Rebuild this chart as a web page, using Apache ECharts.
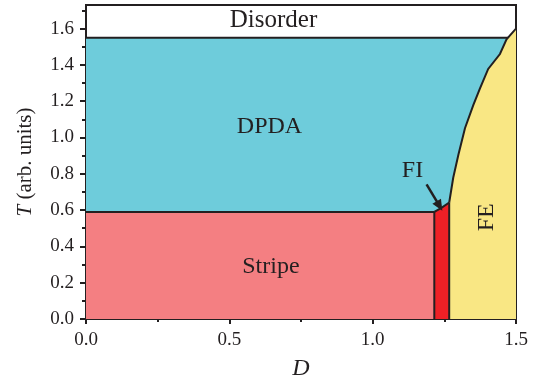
<!DOCTYPE html>
<html>
<head>
<meta charset="utf-8">
<script src="https://cdn.jsdelivr.net/npm/echarts@6/dist/echarts.min.js"></script>
<style>html,body{margin:0;padding:0;background:#fff}#c{width:539px;height:386px}</style>
</head>
<body>
<div id="c"></div>
<script>
// ---- data (D, T in axis units) ----
const xTicks = [0, 0.5, 1.0, 1.5];
const yTicks = [0, 0.2, 0.4, 0.6, 0.8, 1.0, 1.2, 1.4, 1.6];
const yMinorTicks = [0.1, 0.3, 0.5, 0.7, 0.9, 1.1, 1.3, 1.5, 1.7];
const D_MAX = 1.5;
const T_MAX = 1.73;
const disorderT = 1.55;
const stripeTopT = 0.59;
const stripeRightD = 1.215;
const fiRightD = 1.267;
const fiTopD = [1.215, 1.24, 1.267];
const fiTopT = [0.59, 0.612, 0.642];
const feBoundaryD = [1.267, 1.281, 1.299, 1.322, 1.351, 1.374, 1.403, 1.444, 1.467, 1.5];
const feBoundaryT = [0.642, 0.778, 0.905, 1.051, 1.178, 1.269, 1.378, 1.46, 1.541, 1.6];
const arrowFrom = [1.188, 0.742];
const arrowTo = [1.243, 0.597];
const regionNames = ['Disorder', 'DPDA', 'Stripe', 'FI', 'FE'];
const regionLabelD = [0.654, 0.64, 0.645, 1.139, 1.399];
const regionLabelT = [1.645, 1.062, 0.29, 0.818, 0.56];

const INK = '#231F20';
const FONT = '"Liberation Serif", "Times New Roman", serif';
const COL = {dpda: '#6ECCDB', stripe: '#F47F82', fi: '#EE2026', fe: '#F9E784'};

const chart = echarts.init(document.getElementById('c'), null, {renderer: 'canvas'});

function renderItem(params, api) {
  const c = (d, t) => api.coord([d, t]);
  const lw = 2;
  const children = [];
  children.push({type: 'polygon', shape: {points: [c(0, 0), c(0, disorderT), c(D_MAX, disorderT), c(D_MAX, 0)]},
    style: {fill: COL.dpda}});
  children.push({type: 'polyline', shape: {points: [c(0, disorderT), c(D_MAX, disorderT)]},
    style: {stroke: INK, lineWidth: lw, fill: null}});
  const fePts = [c(fiRightD, 0)];
  for (let i = 0; i < feBoundaryD.length; i++) fePts.push(c(feBoundaryD[i], feBoundaryT[i]));
  fePts.push(c(D_MAX, 0));
  children.push({type: 'polygon', shape: {points: fePts}, style: {fill: COL.fe}});
  children.push({type: 'polygon', shape: {points: [c(0, 0), c(0, stripeTopT), c(stripeRightD, stripeTopT), c(stripeRightD, 0)]},
    style: {fill: COL.stripe}});
  const fiPts = [c(stripeRightD, 0)];
  for (let i = 0; i < fiTopD.length; i++) fiPts.push(c(fiTopD[i], fiTopT[i]));
  fiPts.push(c(fiRightD, 0));
  children.push({type: 'polygon', shape: {points: fiPts}, style: {fill: COL.fi}});
  const curve = [];
  for (let i = 0; i < feBoundaryD.length; i++) curve.push(c(feBoundaryD[i], feBoundaryT[i]));
  children.push({type: 'polyline', shape: {points: curve}, style: {stroke: INK, lineWidth: lw, fill: null}});
  children.push({type: 'polyline', shape: {points: [c(0, stripeTopT), c(stripeRightD, stripeTopT)]}, style: {stroke: INK, lineWidth: lw, fill: null}});
  const fiTop = [];
  for (let i = 0; i < fiTopD.length; i++) fiTop.push(c(fiTopD[i], fiTopT[i]));
  children.push({type: 'polyline', shape: {points: fiTop}, style: {stroke: INK, lineWidth: lw, fill: null}});
  children.push({type: 'polyline', shape: {points: [c(stripeRightD, 0), c(stripeRightD, stripeTopT)]}, style: {stroke: INK, lineWidth: lw, fill: null}});
  children.push({type: 'polyline', shape: {points: [c(fiRightD, 0), c(fiRightD, fiTopT[fiTopT.length - 1])]}, style: {stroke: INK, lineWidth: lw, fill: null}});
  // arrow
  const a = c(arrowFrom[0], arrowFrom[1]);
  const b = c(arrowTo[0], arrowTo[1]);
  const dx = b[0] - a[0], dy = b[1] - a[1];
  const len = Math.sqrt(dx * dx + dy * dy);
  const ux = dx / len, uy = dy / len;
  const hl = 11, hw = 5;
  const base = [b[0] - ux * hl, b[1] - uy * hl];
  children.push({type: 'polyline', shape: {points: [a, [base[0] + ux * 2, base[1] + uy * 2]]}, style: {stroke: INK, lineWidth: 2.5, fill: null}});
  children.push({type: 'polygon', shape: {points: [b, [base[0] - uy * hw, base[1] + ux * hw], [base[0] + uy * hw, base[1] - ux * hw]]},
    style: {fill: INK}});
  for (let i = 0; i < regionNames.length; i++) {
    const p = c(regionLabelD[i], regionLabelT[i]);
    children.push({type: 'text', x: p[0], y: p[1], rotation: regionNames[i] === 'FE' ? Math.PI / 2 : 0,
      style: {text: regionNames[i], fill: INK, font: (regionNames[i] === 'Disorder' ? '25px ' : '24px ') + FONT, align: 'center', verticalAlign: 'middle'}});
  }
  return {type: 'group', children: children};
}

const option = {
  backgroundColor: '#fff',
  animation: false,
  grid: {left: 86, right: 23, top: 5, bottom: 63, show: true, borderColor: INK, borderWidth: 2, backgroundColor: '#fff'},
  xAxis: {
    type: 'value', min: 0, max: D_MAX, interval: 0.5,
    name: 'D', nameLocation: 'middle', nameGap: 38,
    nameTextStyle: {fontFamily: FONT, fontSize: 24, fontStyle: 'italic', color: INK},
    axisLine: {lineStyle: {color: INK, width: 2}},
    axisTick: {show: true, inside: false, length: 5, lineStyle: {color: INK, width: 2}},
    minorTick: {show: true, splitNumber: 2, length: 3, lineStyle: {color: INK, width: 2}},
    axisLabel: {margin: 12, fontFamily: FONT, fontSize: 19, color: INK, formatter: v => v.toFixed(1)},
    splitLine: {show: false}
  },
  yAxis: [{
    type: 'value', min: 0, max: T_MAX,
    name: '{i|T} (arb. units)', nameLocation: 'middle', nameGap: 50,
    nameTextStyle: {fontFamily: FONT, fontSize: 21, color: INK,
      rich: {i: {fontFamily: FONT, fontSize: 21, fontStyle: 'italic', color: INK}}},
    axisLine: {show: true, lineStyle: {color: INK, width: 2}},
    axisTick: {show: true, inside: false, length: 6, customValues: yTicks, lineStyle: {color: INK, width: 2}},
    axisLabel: {margin: 12, customValues: yTicks, fontFamily: FONT, fontSize: 19, color: INK, formatter: v => v.toFixed(1)},
    splitLine: {show: false}
  }, {
    type: 'value', min: 0, max: T_MAX, position: 'left', offset: 0,
    axisLine: {show: true, onZero: false, lineStyle: {color: INK, width: 2}},
    axisTick: {show: true, inside: false, length: 4, customValues: yMinorTicks, lineStyle: {color: INK, width: 2}},
    axisLabel: {show: false},
    splitLine: {show: false}
  }],
  series: [{
    type: 'custom',
    renderItem: renderItem,
    data: [[0, 0]],
    clip: true,
    z: 1
  }]
};
chart.setOption(option);
</script>
</body>
</html>
